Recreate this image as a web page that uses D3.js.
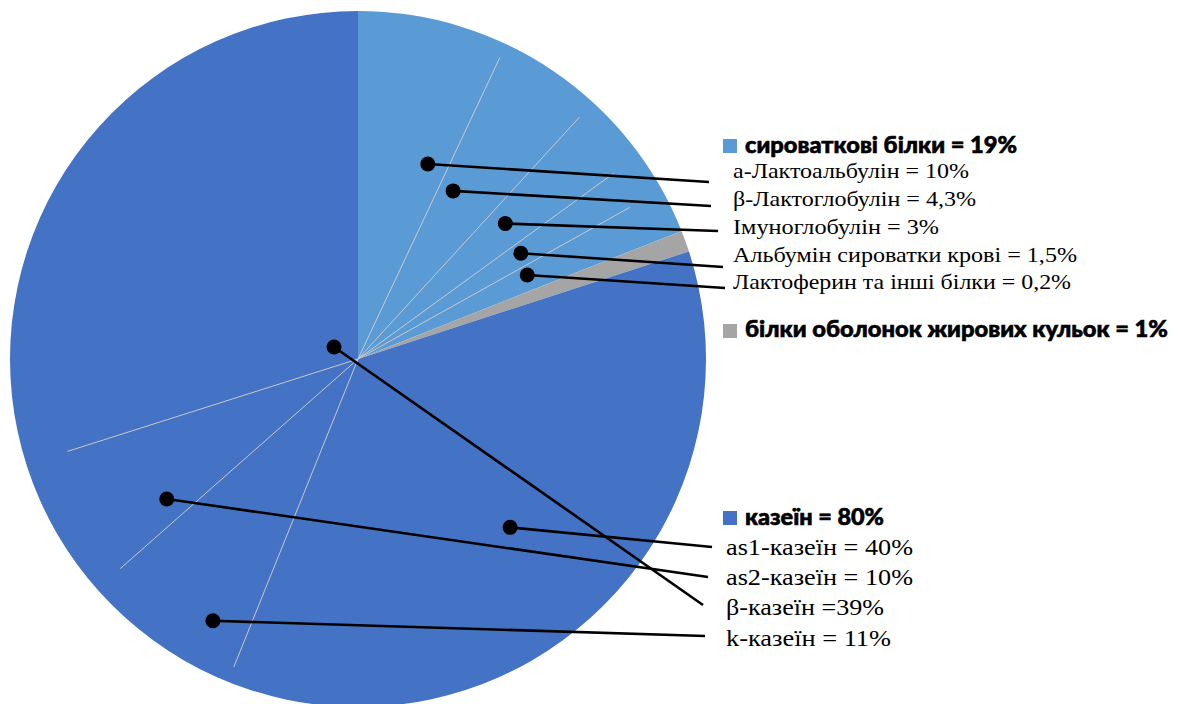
<!DOCTYPE html>
<html>
<head>
<meta charset="utf-8">
<script src="https://cdn.jsdelivr.net/npm/d3@7/dist/d3.min.js"></script>
<style>
  html, body { margin: 0; padding: 0; background: #ffffff; }
  svg { display: block; }
</style>
</head>
<body>
<svg id="chart" width="1181" height="704"></svg>
<script>
// ---------------- DATA ----------------
const groupNames  = ["сироваткові білки", "білки оболонок жирових кульок", "казеїн"];
const groupValues = [19, 1, 80];

const wheyNames  = ["а-Лактоальбулін", "β-Лактоглобулін", "Імуноглобулін", "Альбумін сироватки крові", "Лактоферин та інші білки"];
const wheyLabels = ["10%", "4,3%", "3%", "1,5%", "0,2%"];

const caseinNames  = ["as1-казеїн", "as2-казеїн", "β-казеїн", "k-казеїн"];
const caseinLabels = ["40%", "10%", "39%", "11%"];

// thin divider lines inside the slices (position in % of whole circle)
const wheyDividers   = [7.0, 11.8, 15.0, 16.9];
const caseinDividers = [56.1, 63.5, 70.1];

// ---------------- LAYOUT ----------------
const W = 1181, H = 704;
const cx = 358, cy = 359, R = 348;
const colors = ["#5B9BD5", "#A5A5A5", "#4472C4"];

const wheyDividerLen   = [0.957, 0.943, 0.908, 0.894];
const caseinDividerLen = [0.954, 0.911, 0.876];

// callout anchors: [angle deg, radius fraction] and label line end [x, y]
const wheyAnchors   = [[19.7, 0.595], [29.5, 0.555], [47.4, 0.575], [57.0, 0.558], [63.6, 0.543]];
const wheyEnds      = [[709, 182], [711, 206], [718, 231], [723, 267], [725, 288]];
const caseinAnchors = [[137.9, 0.652], [233.8, 0.681], [296.6, 0.077], [209.0, 0.86]];
const caseinEnds    = [[712, 547], [708, 577], [703, 605], [705, 636]];

const SERIF = '"Liberation Serif", "Times New Roman", serif';
const HEAD  = 'Lato, "Open Sans", sans-serif';

const svg = d3.select("#chart");
const g = svg.append("g").attr("transform", `translate(${cx},${cy})`);

const pie = d3.pie().sort(null).value(d => d).startAngle(0).endAngle(2 * Math.PI);
const arc = d3.arc().innerRadius(0).outerRadius(R);

g.selectAll("path.slice")
  .data(pie(groupValues))
  .join("path")
  .attr("class", "slice")
  .attr("d", arc)
  .attr("fill", (d, i) => colors[i]);

// angle scale: percent of whole -> radians
const ang = d3.scaleLinear().domain([0, 100]).range([0, 2 * Math.PI]);

const dividers = wheyDividers.map((p, i) => ({p, len: wheyDividerLen[i]}))
  .concat(caseinDividers.map((p, i) => ({p, len: caseinDividerLen[i]})));

g.selectAll("line.div")
  .data(dividers)
  .join("line")
  .attr("class", "div")
  .attr("x1", 0).attr("y1", 0)
  .attr("x2", d => d3.pointRadial(ang(d.p), d.len * R)[0])
  .attr("y2", d => d3.pointRadial(ang(d.p), d.len * R)[1])
  .attr("stroke", "#c9c9c9")
  .attr("stroke-width", 1);

// callouts
const degScale = d3.scaleLinear().domain([0, 360]).range([0, 2 * Math.PI]);
const callouts = wheyAnchors.map((a, i) => ({a, e: wheyEnds[i]}))
  .concat(caseinAnchors.map((a, i) => ({a, e: caseinEnds[i]})));

const cg = svg.append("g");
callouts.forEach(c => {
  const [px, py] = d3.pointRadial(degScale(c.a[0]), c.a[1] * R);
  cg.append("line")
    .attr("x1", cx + px).attr("y1", cy + py)
    .attr("x2", c.e[0]).attr("y2", c.e[1])
    .attr("stroke", "#000").attr("stroke-width", 2.6);
  cg.append("circle")
    .attr("cx", cx + px).attr("cy", cy + py)
    .attr("r", 7.5).attr("fill", "#000");
});

// legend
const lg = svg.append("g");

const headers = [
  {text: groupNames[0] + " = " + groupValues[0] + "%", y: 153, sqY: 139, len: 272, color: colors[0]},
  {text: groupNames[1] + " = " + groupValues[1] + "%", y: 337, sqY: 324, len: 423, color: colors[1]},
  {text: groupNames[2] + " = " + groupValues[2] + "%", y: 525, sqY: 511, len: 139, color: colors[2]}
];
headers.forEach(h => {
  lg.append("rect").attr("x", 723).attr("y", h.sqY).attr("width", 14).attr("height", 14).attr("fill", h.color);
  lg.append("text").attr("x", 745).attr("y", h.y)
    .style("font-family", HEAD).style("font-weight", 900).style("font-size", "22px")
    .attr("textLength", h.len).attr("lengthAdjust", "spacingAndGlyphs")
    .attr("fill", "#000").attr("stroke", "#000").attr("stroke-width", 0.6)
    .text(h.text);
});

const wheyY = [178, 206, 234, 262, 289];
const wheyLen = [236, 243, 206, 344, 338];
wheyNames.forEach((n, i) => {
  lg.append("text").attr("x", 733).attr("y", wheyY[i])
    .style("font-family", SERIF).style("font-size", "21px")
    .attr("textLength", wheyLen[i]).attr("lengthAdjust", "spacingAndGlyphs")
    .attr("fill", "#000").text(n + " = " + wheyLabels[i]);
});

const casY = [555, 585, 615, 646];
const casLen = [187, 187, 158, 165];
const casSep = [" = ", " = ", " =", " = "];
caseinNames.forEach((n, i) => {
  lg.append("text").attr("x", 726).attr("y", casY[i])
    .style("font-family", SERIF).style("font-size", "23px")
    .attr("textLength", casLen[i]).attr("lengthAdjust", "spacingAndGlyphs")
    .attr("fill", "#000").text(n + casSep[i] + caseinLabels[i]);
});
</script>
</body>
</html>
